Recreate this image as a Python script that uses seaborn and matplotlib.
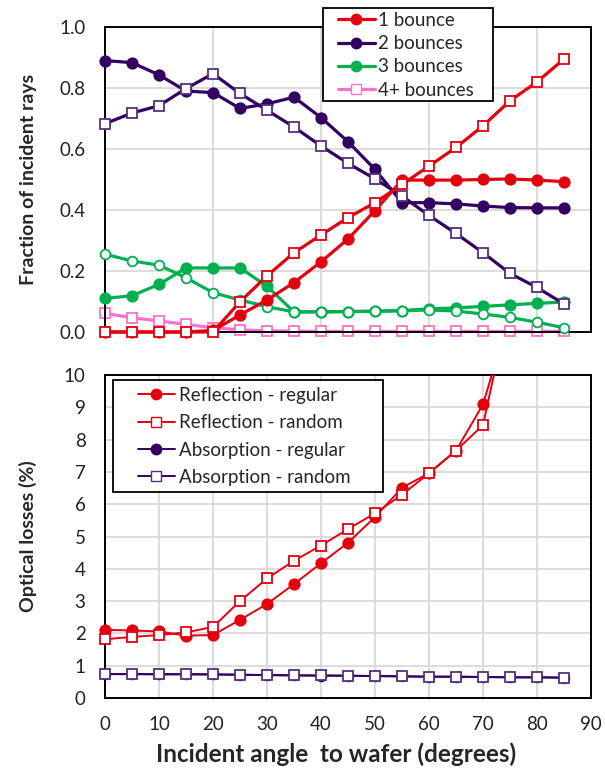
import numpy as np
import pandas as pd
import matplotlib
matplotlib.use("Agg")
import matplotlib.pyplot as plt
import matplotlib.transforms as mtransforms
from matplotlib.patches import Rectangle
from matplotlib.lines import Line2D
import seaborn as sns

sns.set_theme(style="white")
plt.rcParams['font.family'] = ['Lato', 'DejaVu Sans']

angles = [0, 5, 10, 15, 20, 25, 30, 35, 40, 45, 50, 55, 60, 65, 70, 75, 80, 85]

b1_regular = [0.0, 0.0, 0.0, 0.0, 0.005, 0.056, 0.105, 0.162, 0.23, 0.305, 0.398, 0.498, 0.498, 0.498, 0.500, 0.502, 0.498, 0.493]
b1_random = [0.0, 0.0, 0.0, 0.0, 0.0, 0.099, 0.184, 0.26, 0.318, 0.375, 0.424, 0.484, 0.544, 0.605, 0.676, 0.758, 0.82, 0.895]
b2_regular = [0.89, 0.883, 0.843, 0.79, 0.785, 0.733, 0.748, 0.77, 0.703, 0.624, 0.533, 0.424, 0.424, 0.42, 0.413, 0.408, 0.407, 0.407]
b2_random = [0.683, 0.718, 0.742, 0.798, 0.847, 0.782, 0.727, 0.672, 0.61, 0.553, 0.502, 0.446, 0.382, 0.323, 0.26, 0.192, 0.146, 0.092]
b3_regular = [0.11, 0.119, 0.156, 0.21, 0.21, 0.21, 0.15, 0.066, 0.066, 0.067, 0.068, 0.07, 0.076, 0.079, 0.084, 0.089, 0.094, 0.098]
b3_random = [0.255, 0.233, 0.219, 0.178, 0.129, 0.105, 0.083, 0.066, 0.066, 0.067, 0.068, 0.07, 0.072, 0.069, 0.059, 0.048, 0.032, 0.014]
b4_random = [0.061, 0.047, 0.036, 0.025, 0.014, 0.007, 0.004, 0.003, 0.002, 0.002, 0.002, 0.002, 0.002, 0.002, 0.002, 0.002, 0.002, 0.002]

loss_angles = [0, 5, 10, 15, 20, 25, 30, 35, 40, 45, 50, 55, 60, 65, 70, 75]
refl_regular = [2.11, 2.09, 2.06, 1.93, 1.95, 2.42, 2.91, 3.53, 4.17, 4.81, 5.6, 6.51, 6.96, 7.66, 9.09, 11.9]
refl_random = [1.82, 1.89, 1.95, 2.03, 2.2, 3.0, 3.7, 4.25, 4.72, 5.23, 5.72, 6.29, 6.96, 7.66, 8.45, 12.3]
abs_regular = [0.74, 0.74, 0.73, 0.73, 0.73, 0.72, 0.71, 0.70, 0.69, 0.69, 0.68, 0.67, 0.66, 0.66, 0.65, 0.64, 0.64, 0.63]
abs_random = [0.74, 0.74, 0.74, 0.74, 0.73, 0.72, 0.71, 0.70, 0.70, 0.69, 0.68, 0.67, 0.66, 0.66, 0.65, 0.64, 0.64, 0.63]

top_labels = ["1 bounce", "2 bounces", "3 bounces", "4+ bounces"]
bottom_labels = ["Reflection - regular", "Reflection - random",
                 "Absorption - regular", "Absorption - random"]

RED = "#E3000F"
PURPLE = "#330062"
PURPLE_EDGE = "#56307F"
GREEN = "#00B050"
PINK = "#FF6FCF"
GRID = "#D9D9D9"

W, H = 605, 770
fig = plt.figure(figsize=(W/100, H/100), dpi=100)
ax1 = fig.add_axes([105/W, 1-332/H, 486/W, 305/H])
ax2 = fig.add_axes([105/W, 1-698/H, 486/W, 323/H])

def draw(ax, x, y, color, marker, filled, lw, ms, edge=None, z=2, clip=False):
    sns.lineplot(x=x, y=y, ax=ax, color=color, linewidth=lw, marker=marker,
                 markersize=ms, markerfacecolor=(color if filled else "white"),
                 markeredgecolor=(edge or color), markeredgewidth=1.3,
                 legend=False, zorder=z)
    line = ax.lines[-1]
    if clip:
        # clip only at the top of the axes, keep edge markers whole elsewhere
        bb = mtransforms.TransformedBbox(
            mtransforms.Bbox([[-0.1, -0.1], [1.1, 1.0]]), ax.transAxes)
        line.set_clip_box(bb)
        line.set_clip_on(True)
    else:
        line.set_clip_on(False)

# Top panel
lw1 = 2.3
draw(ax1, angles, b4_random, PINK, "s", False, lw1, 7, z=2)
draw(ax1, angles, b3_regular, GREEN, "o", True, lw1, 7.5, z=3)
draw(ax1, angles, b3_random, GREEN, "o", False, lw1, 7, z=3)
draw(ax1, angles, b2_regular, PURPLE, "o", True, lw1, 7.5, z=4)
draw(ax1, angles, b2_random, PURPLE, "s", False, lw1, 7, edge=PURPLE_EDGE, z=4)
draw(ax1, angles, b1_regular, RED, "o", True, lw1, 7.5, z=5)
draw(ax1, angles, b1_random, RED, "s", False, lw1, 7, z=5)

ax1.set_xlim(0, 90)
ax1.set_ylim(0, 1.0)
ax1.set_xticks([0, 20, 40, 60, 80])
ax1.set_xticklabels([])
yt = np.round(np.arange(0, 1.01, 0.2), 1)
ax1.set_yticks(yt)
ax1.set_yticklabels([f"{v:.1f}" for v in yt])
ax1.grid(True, color=GRID, linewidth=1.3)
ax1.set_axisbelow(True)
ax1.set_ylabel("Fraction of incident rays", fontsize=14, fontweight="bold", labelpad=16)

# Bottom panel
lw2 = 1.4
draw(ax2, angles, abs_regular, PURPLE, "o", True, lw2, 7, z=2)
draw(ax2, angles, abs_random, PURPLE, "s", False, lw2, 7, edge=PURPLE_EDGE, z=3)
draw(ax2, loss_angles, refl_regular, RED, "o", True, lw2, 7.5, z=4, clip=True)
draw(ax2, loss_angles, refl_random, RED, "s", False, lw2, 7.5, z=4, clip=True)

ax2.set_xlim(0, 90)
ax2.set_ylim(0, 10)
ax2.set_xticks(range(0, 91, 10))
ax2.set_yticks(range(0, 11, 1))
ax2.grid(True, color=GRID, linewidth=1.3)
ax2.set_axisbelow(True)
ax2.set_ylabel("Optical losses (%)", fontsize=14, fontweight="bold", labelpad=19)
ax2.set_xlabel("Incident angle  to wafer (degrees)", fontsize=17.5, fontweight="bold")
ax2.xaxis.set_label_coords(0.475, -0.138)

for ax in (ax1, ax2):
    for s in ax.spines.values():
        s.set_color("black")
        s.set_linewidth(1.4)
    ax.tick_params(axis="both", which="both", length=0, labelsize=13.5, colors="#222222")
    ax.tick_params(axis="y", pad=14)
    ax.tick_params(axis="x", pad=13)

# Legend frames (figure level, drawn over the axes)
fig.add_artist(Rectangle((323/W, 1-101/H), 170/W, 93/H, transform=fig.transFigure,
                         facecolor="white", edgecolor="black", linewidth=1.3, zorder=5))
fig.add_artist(Rectangle((113/W, 1-492/H), 270/W, 112/H, transform=fig.transFigure,
                         facecolor="white", edgecolor="black", linewidth=1.3, zorder=5))

h1 = [
    Line2D([], [], color=RED, lw=lw1, marker="o", ms=7.5, mfc=RED, mec=RED),
    Line2D([], [], color=PURPLE, lw=lw1, marker="o", ms=7.5, mfc=PURPLE, mec=PURPLE),
    Line2D([], [], color=GREEN, lw=lw1, marker="o", ms=7.5, mfc=GREEN, mec=GREEN),
    Line2D([], [], color=PINK, lw=lw1, marker="s", ms=7, mfc="white", mec=PINK),
]
leg1 = fig.legend(h1, top_labels, loc="upper left", bbox_to_anchor=(338/W, 1-12/H),
                  fontsize=13.5, frameon=False, handlelength=1.95, handletextpad=0.2,
                  labelspacing=0.33, borderpad=0, borderaxespad=0)
leg1.set_zorder(6)

h2 = [
    Line2D([], [], color=RED, lw=lw2, marker="o", ms=7.5, mfc=RED, mec=RED),
    Line2D([], [], color=RED, lw=lw2, marker="s", ms=7, mfc="white", mec=RED),
    Line2D([], [], color=PURPLE, lw=lw2, marker="o", ms=7.5, mfc=PURPLE, mec=PURPLE),
    Line2D([], [], color=PURPLE, lw=lw2, marker="s", ms=7, mfc="white", mec=PURPLE_EDGE),
]
leg2 = fig.legend(h2, bottom_labels, loc="upper left", bbox_to_anchor=(138/W, 1-387/H),
                  fontsize=13.5, frameon=False, handlelength=1.95, handletextpad=0.25,
                  labelspacing=0.55, borderpad=0, borderaxespad=0)
leg2.set_zorder(6)

fig.savefig("out.png", dpi=100)
